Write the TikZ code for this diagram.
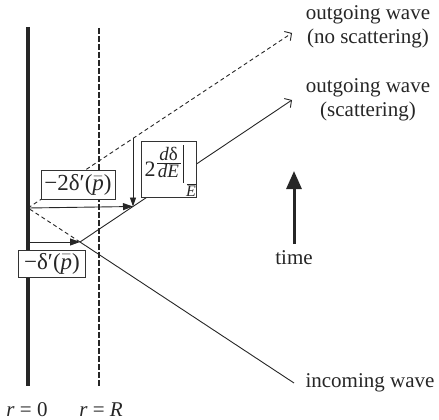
\documentclass[tikz,border=0pt]{standalone}
\usepackage{fontspec}
\setmainfont{Liberation Serif}
\usepackage{amsmath}
\usetikzlibrary{arrows.meta}
\begin{document}
\begin{tikzpicture}[x=1pt,y=-1pt,
  font=\fontsize{21}{24}\selectfont,
  every node/.style={text=black!85},
  ln/.style={line width=0.9pt, draw=black!85},
  dsh/.style={line width=0.9pt, draw=black!85, dash pattern=on 4pt off 3pt},
  lab/.style={draw=black!80, line width=0.8pt, inner sep=0pt, fill=white,
              font=\fontsize{23}{25}\selectfont},
  piece/.style={inner sep=0pt, anchor=base},
  shiftarr/.style={-{Triangle[length=10pt,width=7pt]}},
  outarr/.style={-{Straight Barb[length=5pt,width=11pt]}}]
\useasboundingbox (0,0) rectangle (439,420);
% coordinates
\coordinate (wtop) at (28,27);
\coordinate (wbot) at (28,386);
\coordinate (Rtop) at (99,28);
\coordinate (Rbot) at (99,386);
\coordinate (inc) at (294,383);
\coordinate (S) at (80,242);
\coordinate (W) at (28,208);
\coordinate (W2) at (28,242);
\coordinate (ns) at (292,33);
\coordinate (sc) at (292,100);
\coordinate (P) at (133,206.5);
\coordinate (Q) at (133,138.4);
\coordinate (tb) at (294,244);
\coordinate (tt) at (294,171);
% wall and radius
\draw[line width=4.5pt, draw=black!85] (wtop) -- (wbot);
\draw[line width=2pt, draw=black!85, dash pattern=on 6pt off 2pt] (Rtop) -- (Rbot);
% waves
\draw[ln] (inc) -- (S);
\draw[dsh] (S) -- (W);
\draw[dsh, outarr] (W) -- (ns);
\draw[ln, outarr] (S) -- (sc);
% shifts
\draw[ln, shiftarr] (W2) -- (S);
\draw[ln, shiftarr] (W) -- (P);
\draw[ln, -{Triangle[length=9pt,width=6pt]}] (Q) -- (P);
% time arrow
\draw[line width=3pt, draw=black!85, -{Triangle[length=18pt,width=15pt]}] (tb) -- (tt);
% boxes
\node[lab, minimum width=67pt, minimum height=27pt] (b1) at (52,263.5) {−δ′($\bar{\mbox{\itshape p}}$)};
\node[lab, minimum width=74pt, minimum height=29pt] (b2) at (78,185) {−2δ′($\bar{\mbox{\itshape p}}$)};
\node[lab, minimum width=55pt, minimum height=56pt] (b3) at (168.5,169) {};
\node[piece, font=\fontsize{22}{24}\selectfont] (b3two) at (150,176) {2};
\node[piece, font=\fontsize{19}{20}\selectfont] (b3num) at (168.5,160.5) {\itshape d\upshape δ};
\node[piece, font=\fontsize{19}{20}\selectfont] (b3den) at (168.5,177.5) {\itshape dE};
\coordinate (fl) at (157,163.5);
\coordinate (fr) at (181,163.5);
\draw[line width=0.8pt, draw=black!85] (fl) -- (fr);
\coordinate (vt) at (183.5,145);
\coordinate (vb) at (183.5,183);
\draw[line width=1pt, draw=black!85] (vt) -- (vb);
\node[piece, font=\fontsize{16}{17}\selectfont] (b3E) at (191,196) {\itshape E};
\coordinate (el) at (187,184.5);
\coordinate (er) at (195.5,184.5);
\draw[line width=0.8pt, draw=black!85] (el) -- (er);
% labels
\node[align=center] (l1) at (368,26.5) {outgoing wave\\(no scattering)};
\node[align=center] (l2) at (368,99.5) {outgoing wave\\(scattering)};
\node (l3) at (370,383) {incoming wave};
\node (lt) at (294,258) {time};
\node[piece] (r0) at (27,416) {\textit{r} = 0};
\node[piece] (rR) at (101,416) {\textit{r} = \textit{R}};
\end{tikzpicture}
\end{document}
